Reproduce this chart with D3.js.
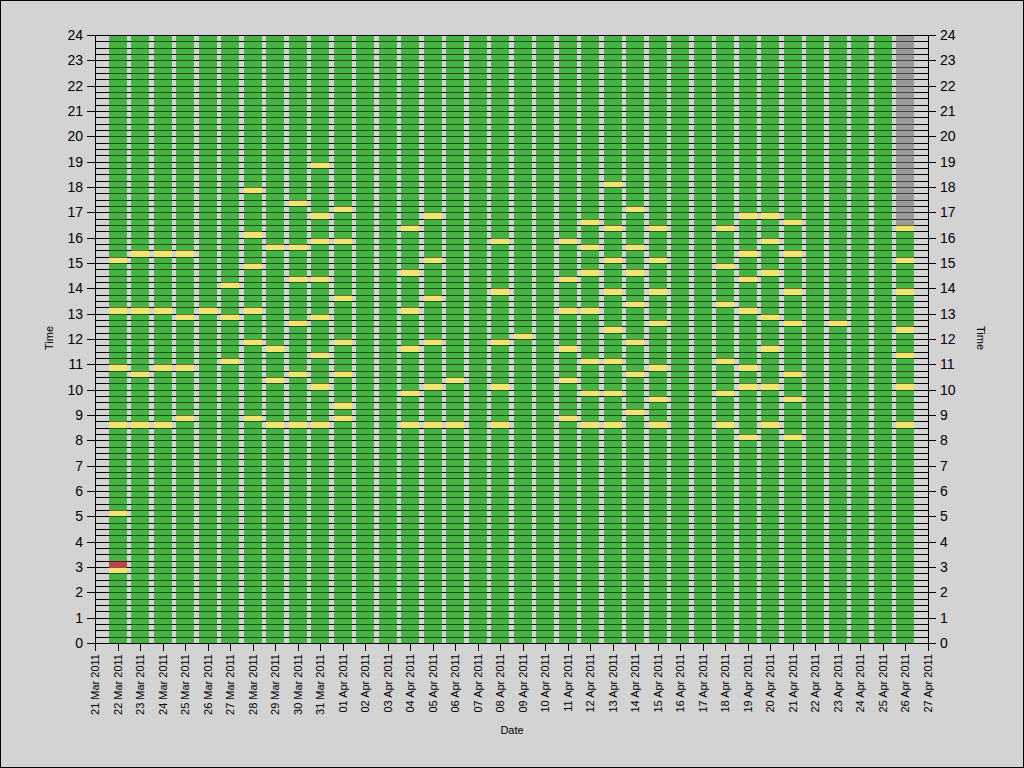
<!DOCTYPE html>
<html>
<head>
<meta charset="utf-8">
<script src="https://cdn.jsdelivr.net/npm/d3@7"></script>
<style>
  html, body { margin: 0; padding: 0; background: #d3d3d3; }
  svg { display: block; }
  text { font-family: "Liberation Sans", Arial, sans-serif; fill: #000; }
</style>
</head>
<body>
<svg id="chart" width="1024" height="768"></svg>
<script>
// ---- data ----
const dates = [
  "2011-03-22","2011-03-23","2011-03-24","2011-03-25","2011-03-26","2011-03-27",
  "2011-03-28","2011-03-29","2011-03-30","2011-03-31","2011-04-01","2011-04-02",
  "2011-04-03","2011-04-04","2011-04-05","2011-04-06","2011-04-07","2011-04-08",
  "2011-04-09","2011-04-10","2011-04-11","2011-04-12","2011-04-13","2011-04-14",
  "2011-04-15","2011-04-16","2011-04-17","2011-04-18","2011-04-19","2011-04-20",
  "2011-04-21","2011-04-22","2011-04-23","2011-04-24","2011-04-25","2011-04-26"
];
// start hour of each 15-minute "yellow" event, per date (same order as dates)
const yellowStarts = [
  [15.0, 13.0, 10.75, 8.5, 5.0, 2.75],
  [15.25, 13.0, 10.5, 8.5],
  [15.25, 13.0, 10.75, 8.5],
  [15.25, 12.75, 10.75, 8.75],
  [13.0],
  [14.0, 12.75, 11.0],
  [17.75, 16.0, 14.75, 13.0, 11.75, 8.75],
  [15.5, 11.5, 10.25, 8.5],
  [17.25, 15.5, 14.25, 12.5, 10.5, 8.5],
  [18.75, 16.75, 15.75, 14.25, 12.75, 11.25, 10.0, 8.5],
  [17.0, 15.75, 13.5, 11.75, 10.5, 9.25, 8.75],
  [],
  [],
  [16.25, 14.5, 13.0, 11.5, 9.75, 8.5],
  [16.75, 15.0, 13.5, 11.75, 10.0, 8.5],
  [10.25, 8.5],
  [],
  [15.75, 13.75, 11.75, 10.0, 8.5],
  [12.0],
  [],
  [15.75, 14.25, 13.0, 11.5, 10.25, 8.75],
  [16.5, 15.5, 14.5, 13.0, 11.0, 9.75, 8.5],
  [18.0, 16.25, 15.0, 13.75, 12.25, 11.0, 9.75, 8.5],
  [17.0, 15.5, 14.5, 13.25, 11.75, 10.5, 9.0],
  [16.25, 15.0, 13.75, 12.5, 10.75, 9.5, 8.5],
  [],
  [],
  [16.25, 14.75, 13.25, 11.0, 9.75, 8.5],
  [16.75, 15.25, 14.25, 13.0, 10.75, 10.0, 8.0],
  [16.75, 15.75, 14.5, 12.75, 11.5, 10.0, 8.5],
  [16.5, 15.25, 13.75, 12.5, 10.5, 9.5, 8.0],
  [],
  [12.5],
  [],
  [],
  [16.25, 15.0, 13.75, 12.25, 11.25, 10.0, 8.5]
];
const redDates = ["2011-03-22"];
const redStarts = [3.0];
const greyDates = ["2011-04-26"];
const greyFrom = [16.5];
const greyTo = [24];
const hourTicks = [0,1,2,3,4,5,6,7,8,9,10,11,12,13,14,15,16,17,18,19,20,21,22,23,24];
const axisStart = "2011-03-21";
const axisEnd = "2011-04-27";
const slotHours = 0.25;

// ---- layout ----
const svg = d3.select("#chart");
const W = 1024, H = 768;
const L = 95, R = 928, T = 35, B = 643;
const parse = d3.utcParse("%Y-%m-%d");
const fmt = d3.utcFormat("%d %b %Y");

const x = d3.scaleUtc().domain([parse(axisStart), parse(axisEnd)]).range([L, R]).interpolate(d3.interpolateRound);
const y = d3.scaleLinear().domain([0, 24]).range([B, T]).interpolate(d3.interpolateRound);

const GREEN = "#45b342", YELLOW = "#f0e66e", RED = "#c84050", GREY = "#999999";
const barW = 18;

svg.append("rect").attr("x", 0.5).attr("y", 0.5).attr("width", W - 1).attr("height", H - 1)
  .attr("fill", "#d3d3d3").attr("stroke", "#000");

const quarters = d3.range(0, 24 * 4 + 1).map(k => k / 4);

function gridLayer(opacity) {
  svg.append("g").selectAll("line").data(quarters).join("line")
    .attr("x1", L).attr("x2", R)
    .attr("y1", d => y(d) + 0.5).attr("y2", d => y(d) + 0.5)
    .attr("stroke", "#000").attr("stroke-width", 1).attr("stroke-opacity", opacity);
}
gridLayer(1);

// bars
const barsG = svg.append("g");
dates.forEach((ds, i) => {
  const d = parse(ds);
  const cx = x(d);
  const gi = greyDates.indexOf(ds);
  const top = gi >= 0 ? greyFrom[gi] : 24;
  barsG.append("rect").attr("x", cx - barW / 2).attr("width", barW)
    .attr("y", y(top)).attr("height", y(0) - y(top)).attr("fill", GREEN);
  if (gi >= 0) {
    barsG.append("rect").attr("x", cx - barW / 2).attr("width", barW)
      .attr("y", y(greyTo[gi])).attr("height", y(greyFrom[gi]) - y(greyTo[gi])).attr("fill", GREY);
  }
  yellowStarts[i].forEach(t => {
    barsG.append("rect").attr("x", cx - barW / 2).attr("width", barW)
      .attr("y", y(t + slotHours)).attr("height", y(t) - y(t + slotHours)).attr("fill", YELLOW);
  });
});
redDates.forEach((ds, i) => {
  const cx = x(parse(ds));
  const t = redStarts[i];
  barsG.append("rect").attr("x", cx - barW / 2).attr("width", barW)
    .attr("y", y(t + slotHours)).attr("height", y(t) - y(t + slotHours)).attr("fill", RED);
});

gridLayer(0.55);

// top border line
svg.append("line").attr("x1", L).attr("x2", R).attr("y1", T + 0.5).attr("y2", T + 0.5).attr("stroke", "#000");

// axes
const yLeft = d3.axisLeft(y).tickValues(hourTicks).tickFormat(d3.format("d")).tickSize(8).tickSizeOuter(0).tickPadding(4);
const yRight = d3.axisRight(y).tickValues(hourTicks).tickFormat(d3.format("d")).tickSize(8).tickSizeOuter(0).tickPadding(4);
const xAxis = d3.axisBottom(x).ticks(d3.utcDay.every(1)).tickFormat(fmt).tickSize(8).tickSizeOuter(0);

function styleAxis(g, fs) {
  g.select(".domain").attr("stroke", "#000");
  g.selectAll(".tick line").attr("stroke", "#000");
  g.selectAll("text").attr("font-family", "'Liberation Sans', Arial, sans-serif").attr("font-size", fs).attr("fill", "#000");
}

const gl = svg.append("g").attr("transform", `translate(${L},0)`).call(yLeft);
styleAxis(gl, 14);
const gr = svg.append("g").attr("transform", `translate(${R},0)`).call(yRight);
styleAxis(gr, 14);
const gx = svg.append("g").attr("transform", `translate(0,${B})`).call(xAxis);
styleAxis(gx, 11);
gx.selectAll(".tick text")
  .attr("text-anchor", "end")
  .attr("transform", "translate(0,3) rotate(-90)")
  .attr("x", -8).attr("y", 0).attr("dy", "0.35em");

// axis titles
svg.append("text").attr("x", 512).attr("y", 734).attr("text-anchor", "middle").attr("font-size", 11).text("Date");
svg.append("text").attr("transform", "translate(53,338) rotate(-90)").attr("text-anchor", "middle").attr("font-size", 11).text("Time");
svg.append("text").attr("transform", "translate(977,338) rotate(90)").attr("text-anchor", "middle").attr("font-size", 11).text("Time");
</script>
</body>
</html>
